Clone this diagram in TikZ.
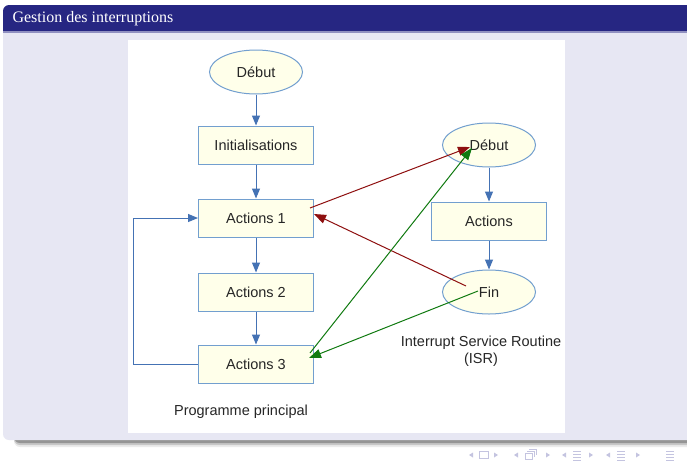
\documentclass[tikz,border=0pt]{standalone}
\usepackage{fontspec}
\newfontfamily\diagfont{Liberation Sans}
\newfontfamily\titlefont{Liberation Serif}
\usetikzlibrary{arrows.meta,shapes.geometric,positioning}

\definecolor{titlebar}{HTML}{262682}
\definecolor{blockbody}{HTML}{E7E7F3}
\definecolor{flowline}{HTML}{4472B4}
\definecolor{boxline}{HTML}{729FCF}
\definecolor{boxfill}{HTML}{FFFFEA}
\definecolor{callred}{HTML}{8E0F0F}
\definecolor{retgreen}{HTML}{107A10}
\definecolor{navgray}{HTML}{C4C4E0}

\tikzset{
    diagtext/.style={font=\diagfont\fontsize{14.5}{17}\selectfont, text=black!85},
    stepbox/.style={draw=boxline, line width=1pt, fill=boxfill, minimum width=115pt, minimum height=38pt, diagtext},
    term/.style={ellipse, draw=boxline, line width=1pt, fill=boxfill, minimum width=93pt, minimum height=44pt, inner sep=0pt, diagtext},
    flow/.style={draw=flowline, line width=1pt, -{Triangle[length=10pt,width=8pt]}},
    callarrow/.style={draw=callred, line width=1pt, -{Triangle[length=12pt,width=9pt]}},
    retarrow/.style={draw=retgreen, line width=1pt, -{Triangle[length=12pt,width=9pt]}},
}

\begin{document}
\begin{tikzpicture}[x=1pt, y=-1pt]
        \useasboundingbox (0,0) rectangle (687,461);
        \fill[white] (0,0) rectangle (687,461);

        % Block shadow
        \foreach \s/\o in {7/0.08, 5/0.15, 3/0.25}
            \fill[black, opacity=\o, rounded corners=6pt] (14,60) rectangle (700,440+\s);

        % Block body and title bar
        \fill[blockbody, rounded corners=6pt] (3,20) rectangle (700,440);
        \fill[titlebar, rounded corners=6pt] (3,5) rectangle (700,31);
        \fill[titlebar] (3,20) rectangle (700,31);
        \fill[titlebar!45!blockbody] (3,31) rectangle (700,33);
        \node[anchor=west, text=white, font=\titlefont\fontsize{16}{19}\selectfont] (title) at (9,19) {Gestion des interruptions};

        % White area of the picture
        \fill[white] (128,40) rectangle (565,433);

        % Main program
        \node[term] (debut) at (256,72) {Début};
        \node[stepbox] (init) at (256,145) {Initialisations};
        \node[stepbox] (act1) at (256,218) {Actions 1};
        \node[stepbox] (act2) at (256,292) {Actions 2};
        \node[stepbox] (act3) at (256,364) {Actions 3};
        \node[diagtext] (prog) at (241,412) {Programme principal};

        \draw[flow] (debut) -- (init);
        \draw[flow] (init) -- (act1);
        \draw[flow] (act1) -- (act2);
        \draw[flow] (act2) -- (act3);
        \draw[flow] (act3.west) -- ++(-65,0) |- (act1.west);

        % ISR
        \node[term] (isrdebut) at (489,145) {Début};
        \node[stepbox] (isract) at (489,221) {Actions};
        \node[term] (isrfin) at (489,292) {Fin};
        \node[diagtext, align=center] (isr) at (481,351) {Interrupt Service Routine\\(ISR)};

        \draw[flow] (isrdebut) -- (isract);
        \draw[flow] (isract) -- (isrfin);

        % Interrupt call and return
        \draw[callarrow] ([xshift=-4pt,yshift=10pt]act1.east) -- ([xshift=-19pt,yshift=-2pt]isrdebut.center);
        \draw[callarrow] ([xshift=-23pt,yshift=6pt]isrfin.center) -- ([yshift=4pt]act1.east);
        \draw[retarrow] ([xshift=-4pt,yshift=11pt]act3.east) -- ([xshift=-17pt,yshift=-3pt]isrdebut.center);
        \draw[retarrow] ([xshift=-11pt,yshift=1pt]isrfin.center) -- ([xshift=-5pt,yshift=6pt]act3.east);

        % Navigation symbols
        \foreach \x in {471,516,564,608}
            \fill[navgray] (\x-2,455) -- (\x+2,452.5) -- (\x+2,457.5) -- cycle;
        \foreach \x in {496,548,591,638}
            \fill[navgray] (\x+2,455) -- (\x-2,452.5) -- (\x-2,457.5) -- cycle;
        \draw[navgray, line width=1pt] (479,451.5) rectangle (488,458.5);
        \draw[navgray, line width=1pt] (525,453.5) rectangle (532,459) (527,451.5) -- (534,451.5) -- (534,457) (529,449.5) -- (536,449.5) -- (536,455);
        \foreach \x in {577,621,670}
            \foreach \y in {451,454,457,460}
                \draw[navgray, line width=0.9pt] (\x-4,\y) -- (\x+4,\y);
\end{tikzpicture}
\end{document}
